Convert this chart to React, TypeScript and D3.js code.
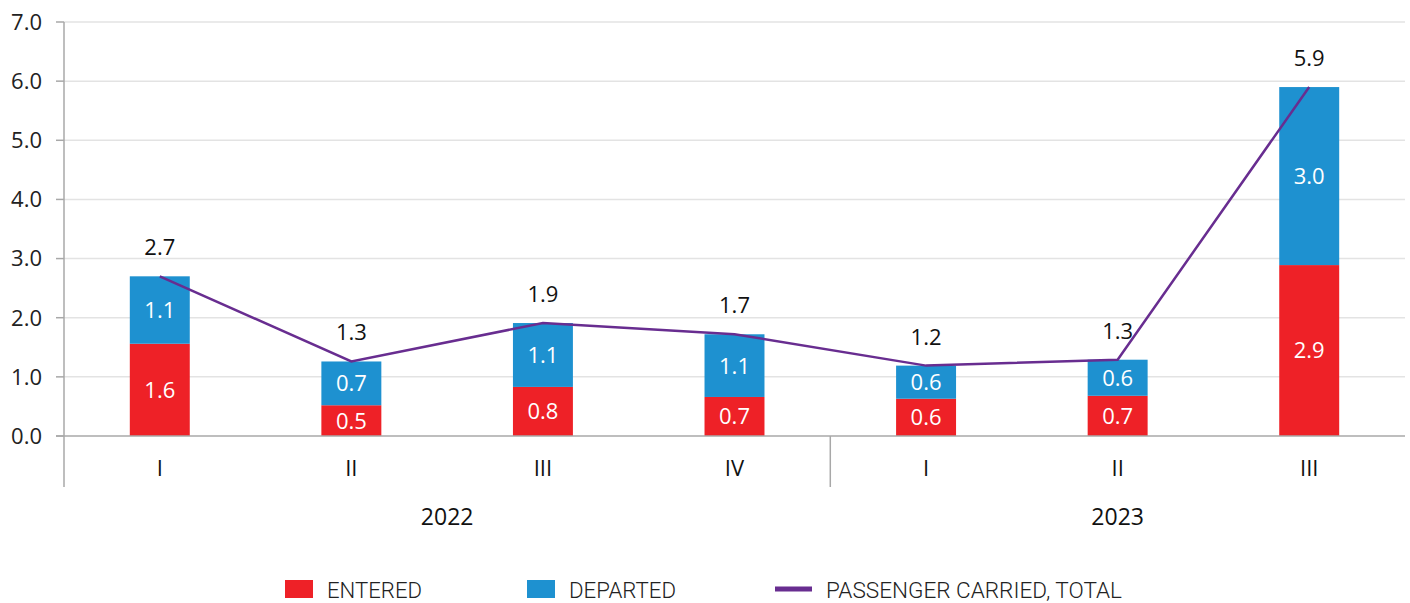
import React from "react";
import * as d3 from "d3";

const categories = ["I", "II", "III", "IV", "I", "II", "III"];
const years = [
  { label: "2022", start: 0, count: 4 },
  { label: "2023", start: 4, count: 3 },
];
const entered = [1.56, 0.52, 0.83, 0.66, 0.63, 0.68, 2.89];
const departed = [1.14, 0.74, 1.08, 1.06, 0.56, 0.61, 3.01];
const yTicks = [0, 1, 2, 3, 4, 5, 6, 7];
const legendItems = ["ENTERED", "DEPARTED", "PASSENGER CARRIED, TOTAL"];

const W = 1410;
const H = 603;
const RED = "#ee2127";
const BLUE = "#1e91d0";
const PURPLE = "#682d90";
const AXIS = "#a8a8a8";
const GRID = "#e3e3e3";
const FONT = "'Open Sans', sans-serif";

export default function App() {
  const left = 64;
  const right = 1405;
  const y0 = 436;
  const yTop = 22;
  const idx = categories.map((_, i) => i);
  const x = d3.scaleBand<number>().domain(idx).range([left, right]).paddingInner(0.687).paddingOuter(0.3435);
  const step = x.step();
  const y = d3.scaleLinear().domain([0, 7]).range([y0, yTop]);
  const totals = entered.map((e, i) => e + departed[i]);
  const cx = (i: number) => (x(i) as number) + x.bandwidth() / 2;
  const line = d3
    .line<number>()
    .x((_, i) => cx(i))
    .y((d) => y(d));
  const bandStart = (i: number) => left + i * step;

  return (
    <div style={{ position: "absolute", left: 0, top: 0 }}>
      <svg width={W} height={H} style={{ display: "block" }} fontFamily={FONT}>
        <rect width={W} height={H} fill="#fff" />
        {yTicks.map((t) => (
          <g key={t}>
            {t > 0 && <line x1={left} x2={right} y1={y(t)} y2={y(t)} stroke={GRID} strokeWidth={1.5} />}
            <line x1={56} x2={left} y1={y(t)} y2={y(t)} stroke={AXIS} strokeWidth={1.5} />
            <text x={42} y={y(t)} dy="0.36em" textAnchor="end" fontSize={22} fill="#222">
              {t.toFixed(1)}
            </text>
          </g>
        ))}
        {idx.map((i) => {
          const bx = x(i) as number;
          const bw = x.bandwidth();
          const e = entered[i];
          const d = departed[i];
          return (
            <g key={i}>
              <rect x={bx} y={y(e)} width={bw} height={y0 - y(e)} fill={RED} />
              <rect x={bx} y={y(e + d)} width={bw} height={y(e) - y(e + d)} fill={BLUE} />
              <text x={cx(i)} y={(y(e) + y0) / 2} dy="0.36em" textAnchor="middle" fontSize={22} fill="#fff">
                {e.toFixed(1)}
              </text>
              <text x={cx(i)} y={(y(e) + y(e + d)) / 2} dy="0.36em" textAnchor="middle" fontSize={22} fill="#fff">
                {d.toFixed(1)}
              </text>
            </g>
          );
        })}
        <line x1={56} x2={right} y1={y0} y2={y0} stroke={AXIS} strokeWidth={1.5} />
        <line x1={left} x2={left} y1={yTop} y2={487} stroke={AXIS} strokeWidth={1.5} />
        <line x1={bandStart(4)} x2={bandStart(4)} y1={y0} y2={487} stroke={AXIS} strokeWidth={1.5} />
        <path d={line(totals) || ""} fill="none" stroke={PURPLE} strokeWidth={2.5} />
        {totals.map((t, i) => (
          <text key={i} x={cx(i)} y={y(t) - 21} textAnchor="middle" fontSize={22} fill="#111">
            {t.toFixed(1)}
          </text>
        ))}
        {categories.map((c, i) => (
          <text key={i} x={cx(i)} y={468} dy="0.36em" textAnchor="middle" fontSize={22} fill="#111">
            {c}
          </text>
        ))}
        {years.map((yr) => (
          <text
            key={yr.label}
            x={bandStart(yr.start) + (yr.count * step) / 2}
            y={517}
            dy="0.36em"
            textAnchor="middle"
            fontSize={23}
            fill="#111"
          >
            {yr.label}
          </text>
        ))}
        <g fontFamily="Roboto" fontWeight={300}>
          <rect x={285} y={580} width={28} height={18} fill={RED} />
          <text x={327} y={598} fontSize={22} fill="#222" textLength={95} lengthAdjust="spacingAndGlyphs">
            {legendItems[0]}
          </text>
          <rect x={527} y={580} width={28} height={18} fill={BLUE} />
          <text x={569} y={598} fontSize={22} fill="#222" textLength={107} lengthAdjust="spacingAndGlyphs">
            {legendItems[1]}
          </text>
          <line x1={775} x2={812} y1={589} y2={589} stroke={PURPLE} strokeWidth={5} />
          <text x={826} y={598} fontSize={22} fill="#222" textLength={296} lengthAdjust="spacingAndGlyphs">
            {legendItems[2]}
          </text>
        </g>
      </svg>
    </div>
  );
}
